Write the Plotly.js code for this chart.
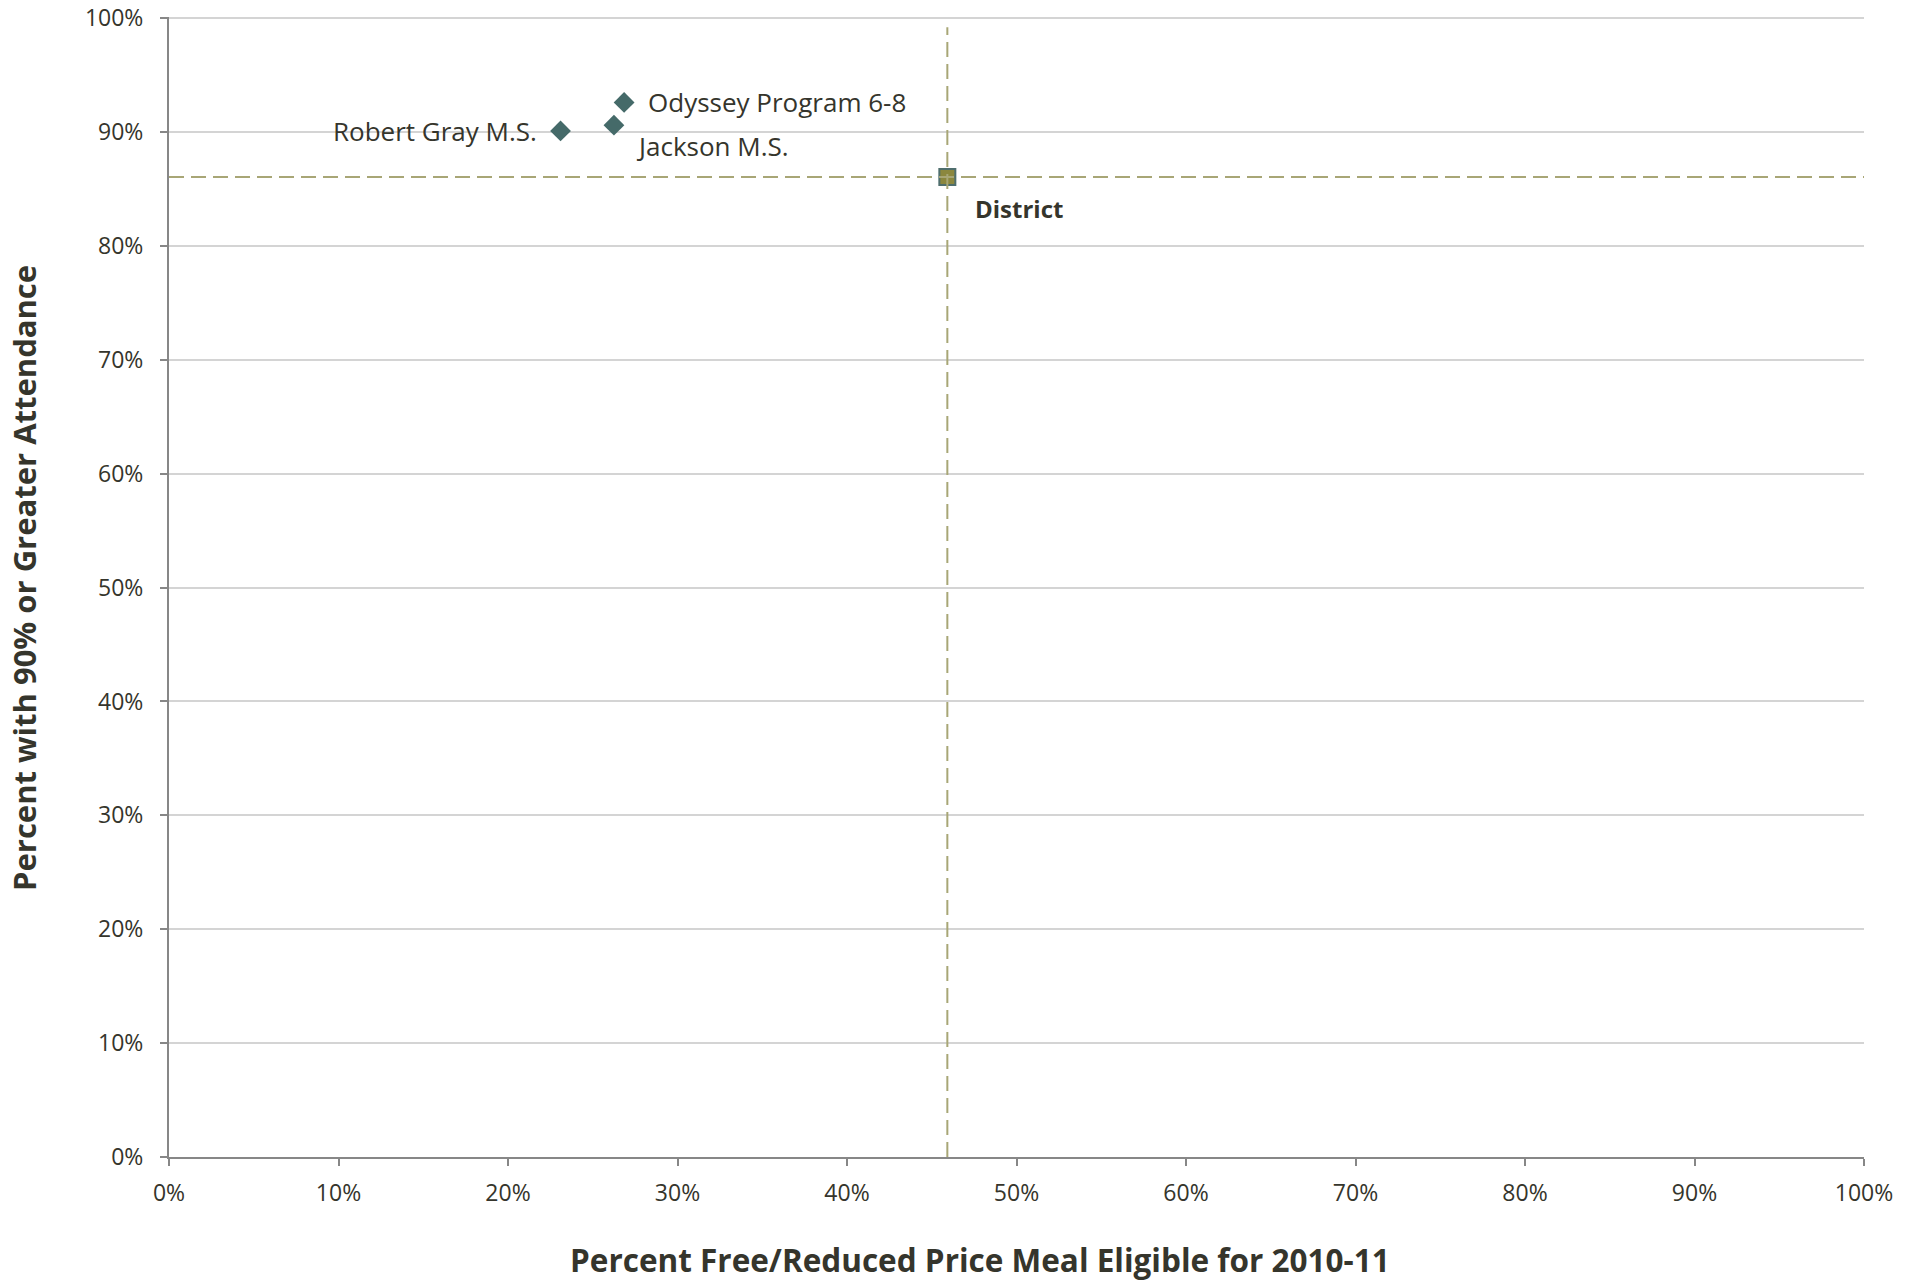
<!DOCTYPE html>
<html>
<head>
<meta charset="utf-8">
<script src="https://cdn.plot.ly/plotly-3.0.1.min.js"></script>
<style>
html,body{margin:0;padding:0;background:#fff;}
#chart{width:1918px;height:1282px;}
</style>
</head>
<body>
<div id="chart"></div>
<script>
// Data (percent values)
const schoolNames = ["Robert Gray M.S.", "Jackson M.S.", "Odyssey Program 6-8"];
const schoolFRL = [23.1, 26.25, 26.85];
const schoolAttend = [90.1, 90.6, 92.6];

const districtName = ["District"];
const districtFRL = [45.92];
const districtAttend = [86.05];

const xTickVals = [0,10,20,30,40,50,60,70,80,90,100];
const xTickText = ["0%","10%","20%","30%","40%","50%","60%","70%","80%","90%","100%"];
const yTickVals = [0,10,20,30,40,50,60,70,80,90,100];
const yTickText = ["0%","10%","20%","30%","40%","50%","60%","70%","80%","90%","100%"];

const font = "Open Sans, Noto Sans, sans-serif";
const textColor = "#35352c";
const dashColor = "#a8a676";

const traces = [
  {
    type: "scatter", mode: "markers",
    x: schoolFRL, y: schoolAttend, text: schoolNames,
    marker: {symbol: "diamond", size: 16, color: "#456a69", line: {width: 0}},
    hoverinfo: "text", showlegend: false
  },
  {
    type: "scatter", mode: "markers",
    x: districtFRL, y: districtAttend, text: districtName,
    marker: {symbol: "square", size: 16, color: "#8b873e", line: {width: 2, color: "#4f6e6d"}},
    hoverinfo: "text", showlegend: false
  },
  {
    type: "scatter", mode: "lines",
    x: [0, 100.3], y: [districtAttend[0], districtAttend[0]],
    line: {color: dashColor, width: 2, dash: "15px,7px"},
    hoverinfo: "skip", showlegend: false
  },
  {
    type: "scatter", mode: "lines",
    x: [districtFRL[0], districtFRL[0]], y: [0, 99.2],
    line: {color: dashColor, width: 2, dash: "15px,7px"},
    hoverinfo: "skip", showlegend: false
  }
];

const annotations = [
  {x: schoolFRL[0], y: schoolAttend[0], text: schoolNames[0], showarrow: false,
   xanchor: "right", yanchor: "middle", xshift: -22, yshift: 0,
   font: {family: font, size: 26, color: textColor}},
  {x: schoolFRL[1], y: schoolAttend[1], text: schoolNames[1], showarrow: false,
   xanchor: "left", yanchor: "middle", xshift: 20, yshift: -21,
   font: {family: font, size: 26, color: textColor}},
  {x: schoolFRL[2], y: schoolAttend[2], text: schoolNames[2], showarrow: false,
   xanchor: "left", yanchor: "middle", xshift: 22, yshift: 0,
   font: {family: font, size: 26, color: textColor}},
  {x: districtFRL[0], y: districtAttend[0], text: "<b>" + districtName[0] + "</b>", showarrow: false,
   xanchor: "left", yanchor: "middle", xshift: 26, yshift: -31,
   font: {family: font, size: 24, color: textColor}},
  {xref: "paper", yref: "paper", x: 0.4785, y: -0.0895, xanchor: "center", yanchor: "middle",
   text: "<b>Percent Free/Reduced Price Meal Eligible for 2010-11</b>", showarrow: false,
   font: {family: font, size: 31.5, color: textColor}},
  {xref: "paper", yref: "paper", x: -0.0855, y: 0.508, xanchor: "center", yanchor: "middle",
   textangle: -90,
   text: "<b>Percent with 90% or Greater Attendance</b>", showarrow: false,
   font: {family: font, size: 31, color: textColor}}
];

const layout = {
  width: 1918, height: 1282,
  margin: {l: 169, r: 54, t: 17, b: 125, pad: 0},
  paper_bgcolor: "#ffffff", plot_bgcolor: "#ffffff",
  xaxis: {
    range: [0, 100], tickvals: xTickVals, ticktext: xTickText,
    showgrid: false, zeroline: false,
    showline: true, linecolor: "#878787", linewidth: 2,
    ticks: "outside", ticklen: 7, tickwidth: 2, tickcolor: "#878787",
    ticklabelstandoff: 7,
    tickfont: {family: font, size: 23, color: textColor},
    fixedrange: true
  },
  yaxis: {
    range: [0, 100.1], tickvals: yTickVals, ticktext: yTickText,
    showgrid: true, gridcolor: "#d4d4d4", gridwidth: 2,
    zeroline: false,
    showline: true, linecolor: "#878787", linewidth: 2,
    ticks: "outside", ticklen: 7, tickwidth: 2, tickcolor: "#878787",
    ticklabelstandoff: 12,
    ticklabeloverflow: "allow",
    tickfont: {family: font, size: 23, color: textColor},
    fixedrange: true
  },
  annotations: annotations,
  showlegend: false,
  hovermode: "closest"
};

Plotly.newPlot("chart", traces, layout, {displayModeBar: false, staticPlot: true});
</script>
</body>
</html>
